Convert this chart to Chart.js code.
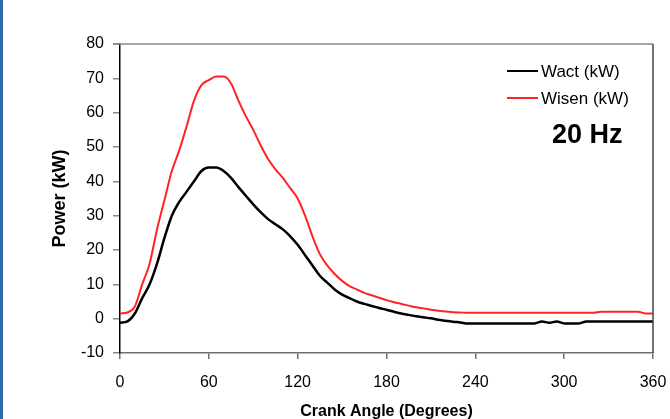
<!DOCTYPE html>
<html>
<head>
<meta charset="utf-8">
<script src="https://cdn.jsdelivr.net/npm/chart.js@4/dist/chart.umd.min.js"></script>
<style>
  body { margin: 0; background: #fff; }
  #wrap { position: relative; width: 670px; height: 419px; }
  #edge { position: absolute; left: 0; top: 0; width: 3px; height: 419px; background: #2b6ca5; }
</style>
</head>
<body>
<div id="wrap">
  <canvas id="power-chart" width="670" height="419"></canvas>
  <div id="edge"></div>
</div>
<script>
const angles = [0,5,10,15,20,25,30,35,40,45,50,55,60,65,70,75,80,85,90,95,100,105,110,115,120,
  125,130,135,140,145,150,155,160,165,170,175,180,185,190,195,200,205,210,215,220,225,230,235,240,
  245,250,255,260,265,270,275,280,285,290,295,300,305,310,315,320,325,330,335,340,345,350,355,360];

const wact = [-1.2,-0.8,1.5,6,10,16,23.5,30,34,37,40,43,44,44,43,41,38.3,35.8,33.3,31,29,27.5,26,24,21.5,
  18.5,15.5,12.5,10.5,8.5,7,6,5,4.3,3.7,3.1,2.6,2,1.5,1.1,0.7,0.4,0.1,-0.3,-0.6,-0.9,-1.1,-1.4,-1.4,
  -1.4,-1.4,-1.4,-1.4,-1.4,-1.4,-1.4,-1.4,-0.8,-1.2,-0.8,-1.4,-1.4,-1.4,-0.8,-0.8,-0.8,-0.8,-0.8,-0.8,-0.8,-0.8,-0.8,-0.8];

const wisen = [1.5,1.8,3.5,10,16,26,34.5,43,49,56,63.5,68,69.5,70.5,70.5,68.5,63.5,59,55,50.5,46.5,43.5,41,38,35,
  30,24,18.8,15.5,13,11,9.5,8.5,7.5,6.8,6.1,5.4,4.8,4.3,3.8,3.3,3,2.6,2.3,2.1,1.9,1.8,1.7,1.7,
  1.7,1.7,1.7,1.7,1.7,1.7,1.7,1.7,1.7,1.7,1.7,1.7,1.7,1.7,1.7,1.7,2,2,2,2,2,2,1.5,1.5];

const xTicks = [0, 60, 120, 180, 240, 300, 360];
const yTicks = [-10, 0, 10, 20, 30, 40, 50, 60, 70, 80];

const FONT = "'Liberation Sans', Arial, sans-serif";

// top + right frame, legend and the frequency note
const frameAndLegend = {
  id: 'frameAndLegend',
  afterDraw(chart) {
    const {ctx, chartArea: a} = chart;
    ctx.save();
    ctx.lineWidth = 1.5;
    ctx.strokeStyle = '#8a8a8a';
    ctx.beginPath();
    ctx.moveTo(a.left - 7, a.top);
    ctx.lineTo(a.right, a.top);
    ctx.stroke();
    ctx.strokeStyle = '#444';
    ctx.beginPath();
    ctx.moveTo(a.right, a.top);
    ctx.lineTo(a.right, a.bottom);
    ctx.stroke();

    ctx.font = '17px ' + FONT;
    ctx.textBaseline = 'middle';
    ctx.textAlign = 'left';
    chart.data.datasets.forEach((ds, i) => {
      const y = 71 + i * 27;
      ctx.strokeStyle = ds.borderColor;
      ctx.lineWidth = 2;
      ctx.beginPath();
      ctx.moveTo(507, y);
      ctx.lineTo(538, y);
      ctx.stroke();
      ctx.fillStyle = '#000';
      ctx.fillText(ds.label, 541, y + 1);
    });
    ctx.font = 'bold 27px ' + FONT;
    ctx.fillText('20 Hz', 552, 136);
    ctx.restore();
  }
};

const chart = new Chart(document.getElementById('power-chart'), {
  type: 'line',
  plugins: [frameAndLegend],
  data: {
    datasets: [{
      label: 'Wact (kW)',
      data: angles.map((a, i) => ({x: a, y: wact[i]})),
      borderColor: '#000000',
      borderWidth: 2.5,
      pointRadius: 0,
      cubicInterpolationMode: 'monotone'
    }, {
      label: 'Wisen (kW)',
      data: angles.map((a, i) => ({x: a, y: wisen[i]})),
      borderColor: '#ff2424',
      borderWidth: 2,
      pointRadius: 0,
      cubicInterpolationMode: 'monotone'
    }]
  },
  options: {
    responsive: false,
    animation: false,
    layout: { padding: { left: 0, top: 44, right: 17, bottom: 0 } },
    plugins: {
      legend: { display: false },
      tooltip: { enabled: false }
    },
    scales: {
      x: {
        type: 'linear',
        min: 0,
        max: 360,
        afterBuildTicks: s => { s.ticks = xTicks.map(v => ({value: v})); },
        afterFit: s => { s.height = 66; s.paddingLeft = 0; s.paddingRight = 0; },
        border: { color: '#707070', width: 1.5 },
        grid: { drawOnChartArea: false, drawTicks: true, tickLength: 6, color: '#707070', lineWidth: 1.5 },
        ticks: { color: '#000', font: { family: FONT, size: 16 }, padding: 14, maxRotation: 0 },
        title: {
          display: true,
          text: 'Crank Angle (Degrees)',
          color: '#000',
          font: { family: FONT, size: 16, weight: 'bold' },
          padding: { top: 0, bottom: -2 }
        }
      },
      y: {
        min: -10,
        max: 80,
        afterBuildTicks: s => { s.ticks = yTicks.map(v => ({value: v})); },
        afterFit: s => { s.width = 120; s.paddingTop = 0; s.paddingBottom = 0; },
        border: { color: '#000', width: 1.5 },
        grid: { drawOnChartArea: false, drawTicks: true, tickLength: 7, color: '#8a8a8a', lineWidth: 1.5 },
        ticks: { color: '#000', font: { family: FONT, size: 16 }, padding: 9 },
        title: {
          display: true,
          text: 'Power (kW)',
          color: '#000',
          font: { family: FONT, size: 18, weight: 'bold' },
          padding: { top: 49, bottom: 0 }
        }
      }
    }
  }
});
</script>
</body>
</html>
